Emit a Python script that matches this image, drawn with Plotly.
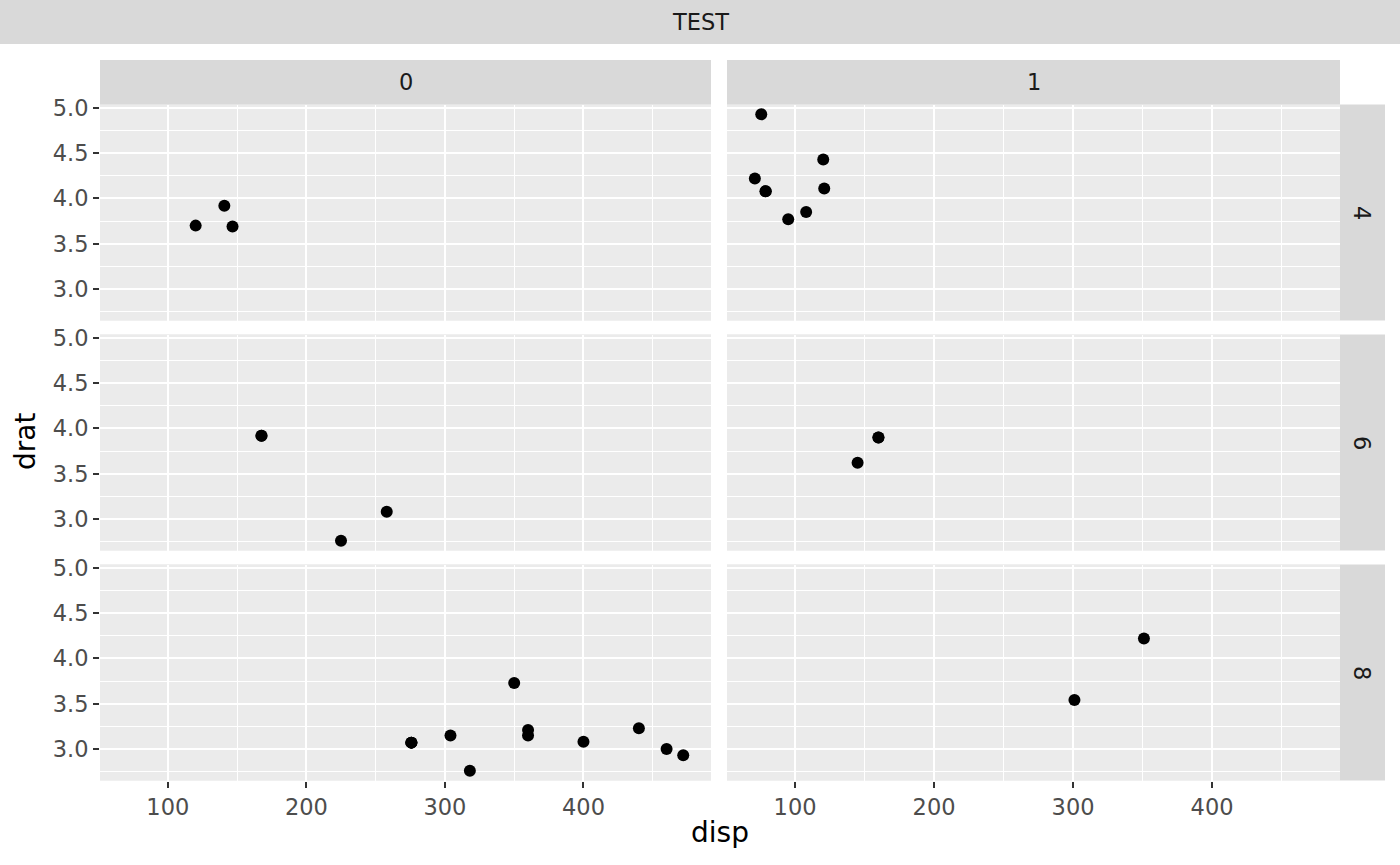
import plotly.graph_objects as go

# mtcars subset: disp, drat, cyl, am
disp = [160, 160, 108, 258, 360, 225, 360, 146.7, 140.8, 167.6, 167.6, 275.8, 275.8, 275.8,
        472, 460, 440, 78.7, 75.7, 71.1, 120.1, 318, 304, 350, 400, 79, 120.3, 95.1, 351,
        145, 301, 121]
drat = [3.90, 3.90, 3.85, 3.08, 3.15, 2.76, 3.21, 3.69, 3.92, 3.92, 3.92, 3.07, 3.07, 3.07,
        2.93, 3.00, 3.23, 4.08, 4.93, 4.22, 3.70, 2.76, 3.15, 3.73, 3.08, 4.08, 4.43, 3.77, 4.22,
        3.62, 3.54, 4.11]
cyl = [6, 6, 4, 6, 8, 6, 8, 4, 4, 6, 6, 8, 8, 8, 8, 8, 8, 4, 4, 4, 4, 8, 8, 8, 8, 4, 4, 4, 8,
       6, 8, 4]
am = [1, 1, 1, 0, 0, 0, 0, 0, 0, 0, 0, 0, 0, 0, 0, 0, 0, 1, 1, 1, 0, 0, 0, 0, 0, 1, 1, 1, 1,
      1, 1, 1]

col_levels = [0, 1]
row_levels = [4, 6, 8]
x_ticks = [100, 200, 300, 400]
y_ticks = [3.0, 3.5, 4.0, 4.5, 5.0]
title_text = "TEST"

W, H = 1400, 865
FONT = "DejaVu Sans"
STRIP = "#D9D9D9"
SMALL = 22.5
BIG = 28


def px(x):
    return x / W


def py(y):
    return 1 - y / H


col_px = [(100, 711), (727, 1340)]
row_px = [(104.5, 320.5), (334.5, 550.5), (564.5, 780.5)]

# shared ranges with ggplot's 5% expansion
xmin, xmax = min(disp), max(disp)
ymin, ymax = min(drat), max(drat)
xr = [xmin - 0.05 * (xmax - xmin), xmax + 0.05 * (xmax - xmin)]
yr = [ymin - 0.05 * (ymax - ymin), ymax + 0.05 * (ymax - ymin)]

fig = go.Figure()
layout = {}
shapes = []
annotations = []


def label(text, x, y, size=SMALL, color="#1A1A1A", angle=0):
    annotations.append(dict(text=text, xref="paper", yref="paper", x=x, y=y,
                            xanchor="center", yanchor="middle", showarrow=False,
                            textangle=angle,
                            font=dict(family=FONT, size=size, color=color)))


for ri, cv in enumerate(row_levels):
    for ci, av in enumerate(col_levels):
        n = ri * 2 + ci + 1
        sfx = "" if n == 1 else str(n)
        xs = [d for d, c, a in zip(disp, cyl, am) if c == cv and a == av]
        ys = [r for r, c, a in zip(drat, cyl, am) if c == cv and a == av]
        fig.add_trace(go.Scatter(
            x=xs, y=ys, mode="markers", xaxis="x" + sfx, yaxis="y" + sfx,
            marker=dict(color="black", size=12), showlegend=False,
            hoverinfo="x+y",
        ))
        x0, x1 = col_px[ci]
        y0, y1 = row_px[ri]
        layout["xaxis" + sfx] = dict(
            domain=[px(x0), px(x1)], anchor="y" + sfx, range=xr, automargin=False,
            tickvals=x_ticks, showticklabels=(ri == 2), ticks="outside" if ri == 2 else "",
            ticklen=6, tickwidth=2, tickcolor="#333333",
            tickfont=dict(family=FONT, size=SMALL, color="#4D4D4D"),
            showgrid=True, gridcolor="white", gridwidth=2,
            minor=dict(dtick=50, tick0=50, showgrid=True, gridcolor="white", gridwidth=1),
            zeroline=False, showline=False, fixedrange=True,
        )
        layout["yaxis" + sfx] = dict(
            domain=[py(y1), py(y0)], anchor="x" + sfx, range=yr, automargin=False,
            tickvals=y_ticks, ticktext=["%.1f" % v for v in y_ticks],
            showticklabels=(ci == 0), ticks="outside" if ci == 0 else "",
            ticklen=6, tickwidth=2, tickcolor="#333333",
            tickfont=dict(family=FONT, size=SMALL, color="#4D4D4D"),
            showgrid=True, gridcolor="white", gridwidth=2,
            minor=dict(dtick=0.5, tick0=2.75, showgrid=True, gridcolor="white", gridwidth=1),
            zeroline=False, showline=False, fixedrange=True,
        )
        shapes.append(dict(type="rect", xref="paper", yref="paper", layer="below",
                           x0=px(x0), x1=px(x1), y0=py(y1), y1=py(y0),
                           fillcolor="#EBEBEB", line=dict(width=0)))

# column strips
for ci, av in enumerate(col_levels):
    x0, x1 = col_px[ci]
    shapes.append(dict(type="rect", xref="paper", yref="paper",
                       x0=px(x0), x1=px(x1), y0=py(104.5), y1=py(60),
                       fillcolor=STRIP, line=dict(width=0)))
    label(str(av), px((x0 + x1) / 2), py(82))

# row strips
for ri, cv in enumerate(row_levels):
    y0, y1 = row_px[ri]
    shapes.append(dict(type="rect", xref="paper", yref="paper",
                       x0=px(1340), x1=px(1385), y0=py(y1), y1=py(y0),
                       fillcolor=STRIP, line=dict(width=0)))
    label(str(cv), px(1362.5), py((y0 + y1) / 2), angle=90)

# top title strip
shapes.append(dict(type="rect", xref="paper", yref="paper",
                   x0=0, x1=1, y0=py(44), y1=1,
                   fillcolor=STRIP, line=dict(width=0)))
label(title_text, 0.5, py(22))

# axis titles
label("disp", px(720), py(832), size=BIG, color="black")
label("drat", px(26), py(442), size=BIG, color="black", angle=-90)

fig.update_layout(
    width=W, height=H,
    margin=dict(l=0, r=0, t=0, b=0, pad=0),
    paper_bgcolor="white", plot_bgcolor="#EBEBEB",
    shapes=shapes, annotations=annotations,
    **layout,
)

# pin the plot to the top-left corner of the page
pin = ("document.body.style.margin='0';"
       "var d=document.getElementById('{plot_id}');"
       "d.style.position='fixed';d.style.top='0';d.style.left='0';")
fig.write_html("out.html", config={"displayModeBar": False}, post_script=pin)
